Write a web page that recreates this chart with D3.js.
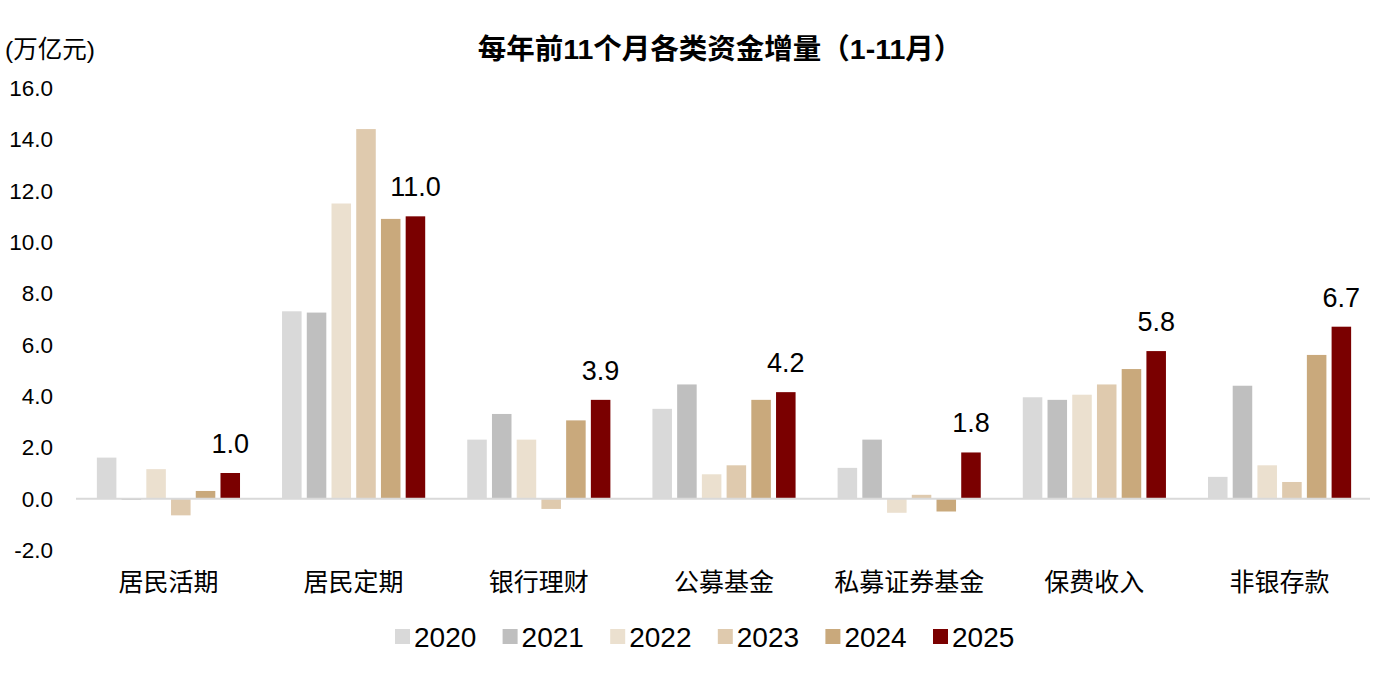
<!DOCTYPE html>
<html><head><meta charset="utf-8">
<script src="https://cdn.jsdelivr.net/npm/d3@7/dist/d3.min.js"></script>
<style>
body{margin:0;background:#fff;}
text{font-family:"Liberation Sans","Noto Sans CJK SC",Arial,sans-serif;}
</style></head>
<body><svg id="c" width="1394" height="674"></svg>
<script>
const categories = ["居民活期","居民定期","银行理财","公募基金","私募证券基金","保费收入","非银存款"];
const years = ["2020","2021","2022","2023","2024","2025"];
const v2020 = [1.6, 7.3, 2.3, 3.5, 1.2, 3.95, 0.85];
const v2021 = [-0.05, 7.25, 3.3, 4.45, 2.3, 3.85, 4.4];
const v2022 = [1.15, 11.5, 2.3, 0.95, -0.55, 4.05, 1.3];
const v2023 = [-0.65, 14.4, -0.4, 1.3, 0.15, 4.45, 0.65];
const v2024 = [0.3, 10.9, 3.05, 3.85, -0.5, 5.05, 5.6];
const v2025 = [1.0, 11.0, 3.85, 4.15, 1.8, 5.75, 6.7];
const series = [v2020, v2021, v2022, v2023, v2024, v2025];
const labels2025 = ["1.0","11.0","3.9","4.2","1.8","5.8","6.7"];
const yTicks = [-2,0,2,4,6,8,10,12,14,16];
const colors = ["#d9d9d9","#bfbfbf","#ebe0cf","#dfcaae","#c9a97c","#7a0000"];

const svg = d3.select("#c");
const x0 = d3.scaleBand().domain(categories).range([76.5,1371.5]).paddingInner(0.227).paddingOuter(0.11);
const x1 = d3.scaleBand().domain(years).range([0,x0.bandwidth()]).paddingInner(0.21);
const y = d3.scaleLinear().domain([-2,16]).range([550,88]);

// y tick labels
svg.append("g").selectAll("text").data(yTicks).join("text")
  .attr("x",53).attr("y",d=>y(d)).attr("dy","0.36em")
  .attr("text-anchor","end").attr("font-size",22.5).attr("fill","#000")
  .text(d=>d.toFixed(1));

// bars
const rows = [];
categories.forEach((c,i)=>years.forEach((yr,j)=>rows.push({c,yr,j,v:series[j][i]})));
svg.append("g").selectAll("rect").data(rows).join("rect")
  .attr("x",d=>x0(d.c)+x1(d.yr))
  .attr("width",x1.bandwidth())
  .attr("y",d=>y(Math.max(0,d.v)))
  .attr("height",d=>Math.abs(y(d.v)-y(0)))
  .attr("fill",d=>colors[d.j]);

// zero line
svg.append("line").attr("x1",76).attr("x2",1370).attr("y1",y(0)).attr("y2",y(0))
  .attr("stroke","#d9d9d9").attr("stroke-width",2);

// data labels on 2025
svg.append("g").selectAll("text").data(categories).join("text")
  .attr("x",c=>x0(c)+x1("2025")+x1.bandwidth()/2)
  .attr("y",(c,i)=>y(v2025[i])-20)
  .attr("text-anchor","middle").attr("font-size",27).attr("fill","#000")
  .text((c,i)=>labels2025[i]);

// category labels
svg.append("g").selectAll("text").data(categories).join("text")
  .attr("x",c=>x0(c)+x0.bandwidth()/2).attr("y",582).attr("dy","0.36em")
  .attr("text-anchor","middle").attr("font-size",25).attr("fill","#000")
  .text(c=>c);

// unit
svg.append("text").attr("x",5).attr("y",49).attr("dy","0.36em").attr("font-size",24.5).text("(万亿元)");
// title
svg.append("text").attr("x",720).attr("y",49).attr("dy","0.36em").attr("text-anchor","middle")
  .attr("font-size",28.5).attr("font-weight","bold").text("每年前11个月各类资金增量（1-11月）");

// legend
const lg = svg.append("g").selectAll("g").data(years).join("g")
  .attr("transform",(d,i)=>`translate(${395+i*107.6},637)`);
lg.append("rect").attr("x",0).attr("y",-8).attr("width",15).attr("height",15).attr("fill",(d,i)=>colors[i]);
lg.append("text").attr("x",19).attr("y",0).attr("dy","0.36em").attr("font-size",28).text(d=>d);
</script></body></html>
